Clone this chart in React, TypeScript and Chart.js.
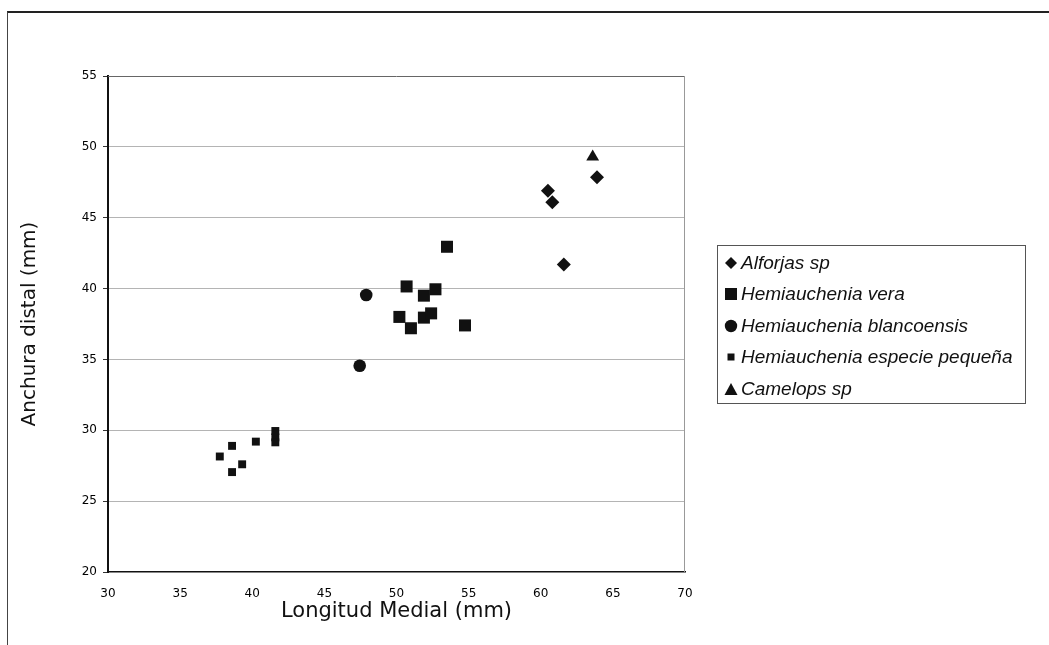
import React, { useEffect, useRef } from "react";
import { Chart, registerables } from "chart.js";

Chart.register(...registerables);

// ---- data ----
const seriesNames = [
  "Alforjas sp",
  "Hemiauchenia vera",
  "Hemiauchenia blancoensis",
  "Hemiauchenia especie pequeña",
  "Camelops sp",
];

const alforjasX = [60.5, 60.8, 61.6, 63.9];
const alforjasY = [46.9, 46.1, 41.7, 47.85];

const veraX = [53.5, 50.7, 52.7, 51.9, 50.2, 51.0, 51.9, 52.4, 54.75];
const veraY = [42.95, 40.15, 39.95, 39.5, 38.0, 37.2, 37.95, 38.25, 37.4];

const blancoX = [47.9, 47.45];
const blancoY = [39.55, 34.55];

const pequenaX = [37.75, 38.6, 38.6, 39.3, 40.25, 41.6, 41.6, 41.6];
const pequenaY = [28.15, 28.9, 27.05, 27.6, 29.2, 29.95, 29.5, 29.15];

const camelopsX = [63.6];
const camelopsY = [49.3];

const xTickValues = [30, 35, 40, 45, 50, 55, 60, 65, 70];
const yTickValues = [20, 25, 30, 35, 40, 45, 50, 55];

const xTitle = "Longitud Medial (mm)";
const yTitle = "Anchura distal (mm)";

const seriesX = [alforjasX, veraX, blancoX, pequenaX, camelopsX];
const seriesY = [alforjasY, veraY, blancoY, pequenaY, camelopsY];
const pointStyles = ["rectRot", "rect", "circle", "rect", "triangle"];
const pointRadii = [7, 8.5, 6.3, 5.6, 7.4];
const legendMarkers = ["diamond", "square", "circle", "smallSquare", "triangle"];

function Marker({ kind }: { kind: string }) {
  let shape: any = null;
  if (kind === "diamond") shape = <polygon points="8,2 14,8 8,14 2,8" fill="#111" />;
  else if (kind === "square") shape = <rect x="2" y="2" width="12" height="12" fill="#111" />;
  else if (kind === "circle") shape = <circle cx="8" cy="8" r="6.2" fill="#111" />;
  else if (kind === "smallSquare") shape = <rect x="4.5" y="4.5" width="7" height="7" fill="#111" />;
  else shape = <polygon points="8,2 14.5,14 1.5,14" fill="#111" />;
  return (
    <svg width="16" height="16" style={{ display: "block" }}>
      {shape}
    </svg>
  );
}

export default function App() {
  const canvasRef = useRef<HTMLCanvasElement | null>(null);

  useEffect(() => {
    if (!canvasRef.current) return;
    const datasets = seriesNames.map((name, i) => ({
      label: name,
      data: seriesX[i].map((x, j) => ({ x, y: seriesY[i][j] })),
      pointStyle: pointStyles[i] as any,
      pointRadius: pointRadii[i],
      backgroundColor: "#111",
      borderColor: "#111",
      borderWidth: 0,
      showLine: false,
    }));

    const framePlugin = {
      id: "frame",
      afterDatasetsDraw(chart: any) {
        const { ctx, chartArea } = chart;
        ctx.save();
        ctx.lineWidth = 1;
        ctx.strokeStyle = "#666";
        ctx.beginPath();
        ctx.moveTo(chartArea.left, chartArea.top + 0.5);
        ctx.lineTo(chartArea.right, chartArea.top + 0.5);
        ctx.stroke();
        ctx.strokeStyle = "#999";
        ctx.beginPath();
        ctx.moveTo(chartArea.right - 0.5, chartArea.top);
        ctx.lineTo(chartArea.right - 0.5, chartArea.bottom);
        ctx.stroke();
        ctx.restore();
      },
    };

    const chart = new Chart(canvasRef.current, {
      type: "scatter",
      data: { datasets },
      plugins: [framePlugin],
      options: {
        animation: false,
        responsive: false,
        maintainAspectRatio: false,
        layout: { padding: { left: 0, top: 76, right: 364, bottom: 13 } },
        plugins: {
          legend: { display: false },
          tooltip: { enabled: false },
        },
        scales: {
          x: {
            type: "linear",
            min: 30,
            max: 70,
            afterBuildTicks: (scale: any) => {
              scale.ticks = xTickValues.map((v) => ({ value: v }));
            },
            afterFit: (scale: any) => {
              scale.height = 60;
            },
            grid: { display: false, drawTicks: false },
            border: { display: true, color: "#111", width: 1.5 },
            ticks: {
              padding: 15,
              color: "#000",
              font: { family: "'DejaVu Sans', 'Liberation Sans', Arial", size: 12 },
            },
            title: {
              display: true,
              text: xTitle,
              color: "#111",
              font: { family: "'DejaVu Sans', Arial", size: 21 },
              padding: { top: 0, bottom: 8 },
            },
          },
          y: {
            type: "linear",
            min: 20,
            max: 55,
            afterBuildTicks: (scale: any) => {
              scale.ticks = yTickValues.map((v) => ({ value: v }));
            },
            afterFit: (scale: any) => {
              scale.width = 108;
            },
            grid: {
              drawTicks: true,
              tickLength: 5,
              tickColor: "#333",
              color: (ctx: any) =>
                ctx.tick && (ctx.tick.value === 20 || ctx.tick.value === 55)
                  ? "rgba(0,0,0,0)"
                  : "#b4b4b4",
            },
            border: { display: true, color: "#111", width: 2 },
            ticks: {
              padding: 6,
              color: "#000",
              font: { family: "'DejaVu Sans', 'Liberation Sans', Arial", size: 12 },
            },
            title: {
              display: true,
              text: yTitle,
              color: "#111",
              font: { family: "'DejaVu Sans', Arial", size: 20 },
              padding: { top: 18, bottom: 0 },
            },
          },
        },
      },
    });
    return () => chart.destroy();
  }, []);

  return (
    <div style={{ position: "absolute", left: 0, top: 0, width: 1049, height: 645, background: "#fff", overflow: "hidden" }}>
      <div
        style={{
          position: "absolute",
          left: 7,
          top: 11,
          width: 1060,
          height: 700,
          borderTop: "2px solid #222",
          borderLeft: "1px solid #444",
        }}
      />
      <canvas ref={canvasRef} width={1049} height={645} style={{ position: "absolute", left: 0, top: 0 }} />
      <div
        style={{
          position: "absolute",
          left: 717,
          top: 245,
          width: 309,
          height: 159,
          boxSizing: "border-box",
          border: "1px solid #555",
          paddingTop: 1,
          fontFamily: "'Liberation Sans', Arial, sans-serif",
          fontStyle: "italic",
          fontSize: 19,
          color: "#111",
        }}
      >
        {seriesNames.map((name, i) => (
          <div key={name} style={{ display: "flex", alignItems: "center", height: 31.5 }}>
            <div style={{ width: 21, paddingLeft: 2, display: "flex", justifyContent: "center" }}>
              <Marker kind={legendMarkers[i]} />
            </div>
            <span style={{ whiteSpace: "nowrap" }}>{name}</span>
          </div>
        ))}
      </div>
    </div>
  );
}
